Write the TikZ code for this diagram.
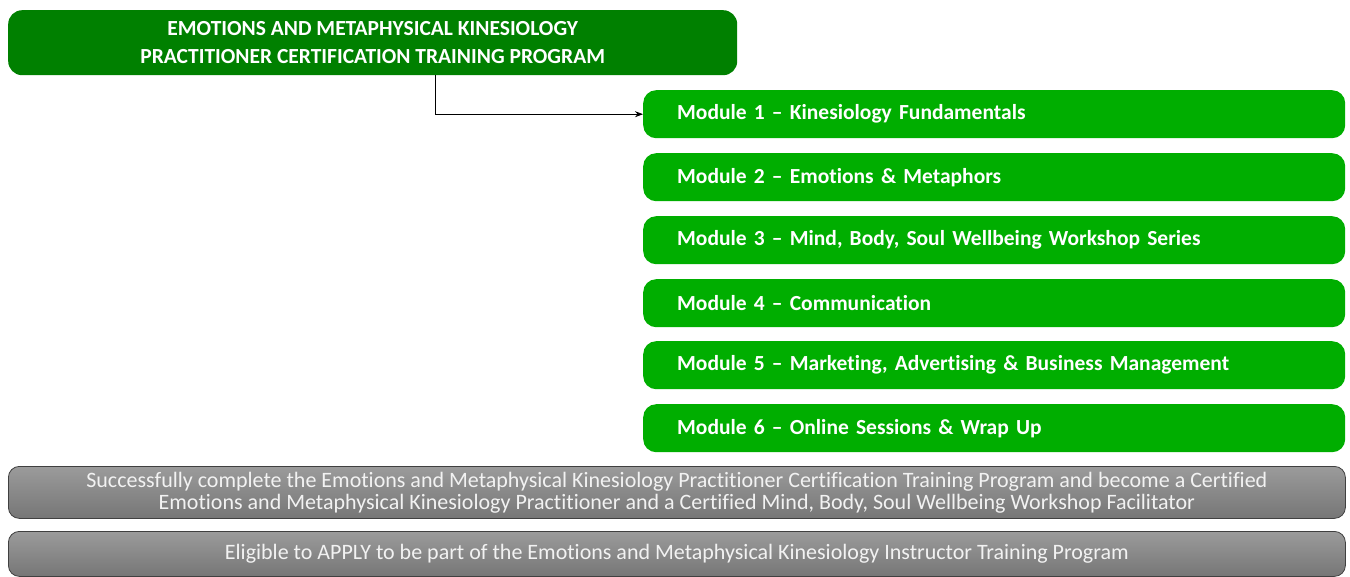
\documentclass[tikz,border=0pt]{standalone}
\usepackage{fontspec}
\setmainfont{Carlito}[Ligatures=NoCommon]
\usetikzlibrary{arrows.meta}
\definecolor{darkg}{RGB}{0,128,0}
\definecolor{modg}{RGB}{0,174,0}
\definecolor{gtop}{RGB}{155,155,155}
\definecolor{gbot}{RGB}{118,118,118}
\definecolor{gtext}{RGB}{242,242,242}
\tikzset{
  titlebox/.style={draw=none, fill=darkg, rounded corners=14pt, text=white, font=\bfseries\fontsize{21.5}{28}\selectfont, align=center, anchor=north west, minimum width=729pt, minimum height=65pt, inner sep=0pt},
  modbox/.style={draw=none, fill=modg, rounded corners=13pt, text=white, font=\bfseries\fontsize{21.5}{24}\selectfont, anchor=north west, minimum width=702pt, minimum height=48pt, inner xsep=34pt, text width=634pt, align=left},
  graybox/.style={draw=black!75, line width=0.8pt, top color=gtop, bottom color=gbot, rounded corners=11pt, text=gtext, font=\fontsize{22}{22}\selectfont, align=center, anchor=north west, minimum width=1337pt, inner sep=0pt},
  conn/.style={draw=black, line width=0.8pt, -{Stealth[length=8pt,width=6pt]}}
}
\begin{document}
\begin{tikzpicture}[x=1pt,y=-1pt]
\useasboundingbox (0,0) rectangle (1350,576);
\node[titlebox] (title) at (8,10) {EMOTIONS AND METAPHYSICAL KINESIOLOGY\\PRACTITIONER CERTIFICATION TRAINING PROGRAM};
\node[modbox] (m1) at (643,90) {Module 1 – Kinesiology Fundamentals};
\node[modbox] (m2) at (643,153) {Module 2 – Emotions \& Metaphors};
\node[modbox] (m3) at (643,216) {Module 3 – Mind, Body, Soul Wellbeing Workshop Series};
\node[modbox] (m4) at (643,279) {Module 4 – Communication};
\node[modbox] (m5) at (643,341) {Module 5 – Marketing, Advertising \& Business Management};
\node[modbox] (m6) at (643,404) {Module 6 – Online Sessions \& Wrap Up};
\node[graybox, minimum height=52pt] (cert) at (8,466) {Successfully complete the Emotions and Metaphysical Kinesiology Practitioner Certification Training Program and become a Certified\\Emotions and Metaphysical Kinesiology Practitioner and a Certified Mind, Body, Soul Wellbeing Workshop Facilitator};
\node[graybox, minimum height=45pt] (apply) at (8,531) {Eligible to APPLY to be part of the Emotions and Metaphysical Kinesiology Instructor Training Program};
\path (m1.west) ++(-208,0) coordinate (bend);
\draw[conn] (title.south -| bend) -- (bend) -- (m1.west);
\end{tikzpicture}
\end{document}
